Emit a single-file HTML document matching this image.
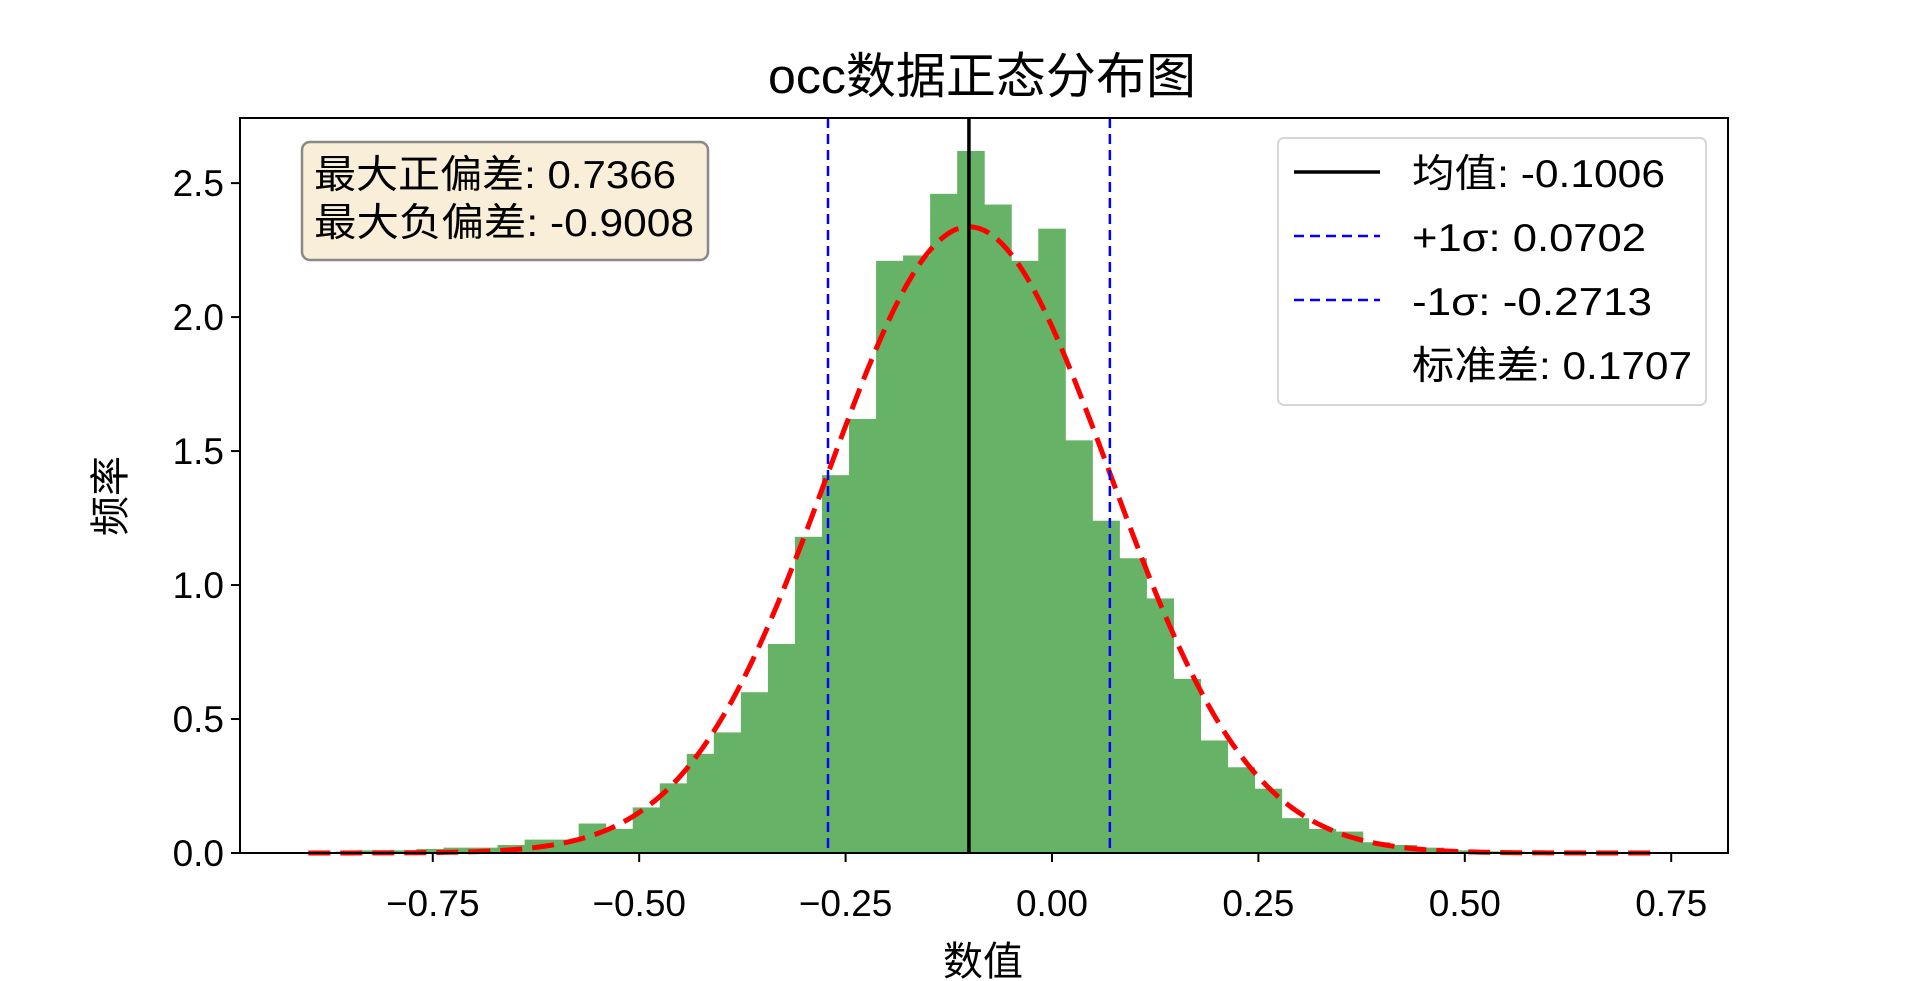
<!DOCTYPE html>
<html><head><meta charset="utf-8"><style>
html,body{margin:0;padding:0;background:#fff;}
svg{display:block;font-family:"Liberation Sans","Noto Sans CJK SC",sans-serif;}
</style></head><body>
<svg id="chart" width="1920" height="981" viewBox="0 0 1920 981" xmlns="http://www.w3.org/2000/svg">
<rect width="1920" height="981" fill="#fff"/>
<text x="982" y="93" font-size="49" text-anchor="middle" textLength="428" lengthAdjust="spacingAndGlyphs">occ数据正态分布图</text>
<g id="plot"></g>
<text x="983" y="975" font-size="40" text-anchor="middle">数值</text>
<text transform="translate(124,496) rotate(-90)" font-size="40" text-anchor="middle">频率</text>
<g>
<rect x="302" y="142" width="406" height="118" rx="8" fill="#f9eed8" stroke="#888" stroke-width="2.5"/>
<text x="314" y="188" font-size="39" textLength="362" lengthAdjust="spacingAndGlyphs">最大正偏差: 0.7366</text>
<text x="314" y="236" font-size="39" textLength="380" lengthAdjust="spacingAndGlyphs">最大负偏差: -0.9008</text>
</g>
<g>
<rect x="1278" y="138" width="428" height="267" rx="6" fill="#fff" fill-opacity="0.8" stroke="#d6d6d6" stroke-width="2"/>
<line x1="1294" y1="172" x2="1380" y2="172" stroke="#000" stroke-width="3.5"/>
<text x="1412" y="187" font-size="39" textLength="253" lengthAdjust="spacingAndGlyphs">均值: -0.1006</text>
<line x1="1294" y1="236" x2="1380" y2="236" stroke="#00f" stroke-width="2.5" stroke-dasharray="10,6"/>
<text x="1412" y="251" font-size="39" textLength="234" lengthAdjust="spacingAndGlyphs">+1σ: 0.0702</text>
<line x1="1294" y1="300" x2="1380" y2="300" stroke="#00f" stroke-width="2.5" stroke-dasharray="10,6"/>
<text x="1412" y="315" font-size="39" textLength="240" lengthAdjust="spacingAndGlyphs">-1σ: -0.2713</text>
<text x="1412" y="379" font-size="39" textLength="280" lengthAdjust="spacingAndGlyphs">标准差: 0.1707</text>
</g>
</svg>
<script>
const binStart = -0.9008;
const binWidth = 0.032748;
const binHeights = [0.003,0.005,0.01,0.01,0.015,0.02,0.02,0.03,0.05,0.05,0.11,0.09,0.17,0.26,0.37,0.45,0.60,0.78,1.18,1.41,1.62,2.21,2.23,2.46,2.62,2.42,2.21,2.33,1.54,1.24,1.10,0.95,0.65,0.42,0.32,0.24,0.13,0.09,0.08,0.04,0.03,0.02,0.01,0.006,0.005,0.004,0.003,0.002,0.002,0.002];
const meanValue = -0.1006;
const stdValue = 0.1707;
const xTicks = [-0.75,-0.5,-0.25,0,0.25,0.5,0.75];
const xTickLabels = ["−0.75","−0.50","−0.25","0.00","0.25","0.50","0.75"];
const yTicks = [0,0.5,1,1.5,2,2.5];
const yTickLabels = ["0.0","0.5","1.0","1.5","2.0","2.5"];

const L=240,R=1728,T=118,B=853;
const xMin=-0.9835,xMax=0.8188,yMin=0,yMax=2.743;
const X=v=>L+(v-xMin)/(xMax-xMin)*(R-L);
const Y=v=>B-(v-yMin)/(yMax-yMin)*(B-T);
const NS="http://www.w3.org/2000/svg";
const g=document.getElementById('plot');
function mk(tag,attrs){const e=document.createElementNS(NS,tag);for(const k in attrs)e.setAttribute(k,attrs[k]);g.appendChild(e);return e;}

binHeights.forEach((h,i)=>{
  const x0=X(binStart+i*binWidth),x1=X(binStart+(i+1)*binWidth);
  const r=mk('rect',{x:x0,y:Y(h),width:x1-x0+0.5,height:B-Y(h),fill:'#66b266'});
  
  
});
let pts=[];
const xEnd=binStart+binWidth*binHeights.length;
for(let k=0;k<=300;k++){
  const v=binStart+(xEnd-binStart)*k/300;
  const p=Math.exp(-0.5*((v-meanValue)/stdValue)**2)/(stdValue*Math.sqrt(2*Math.PI));
  pts.push(X(v).toFixed(1)+','+Y(p).toFixed(1));
}
const curve=mk('polyline',{points:pts.join(' '),fill:'none',stroke:'#f00','stroke-width':5,'stroke-dasharray':'22,10'});


const ml=mk('line',{x1:X(meanValue),x2:X(meanValue),y1:T,y2:B,stroke:'#000','stroke-width':3.5});


[meanValue+stdValue,meanValue-stdValue].forEach((v,i)=>{
  const l=mk('line',{x1:X(v),x2:X(v),y1:T,y2:B,stroke:'#00f','stroke-width':2.5,'stroke-dasharray':'10,6'});
  
  
});
const frame=mk('rect',{x:L,y:T,width:R-L,height:B-T,fill:'none',stroke:'#000','stroke-width':2});


xTicks.forEach((v,i)=>{
  const t=mk('line',{x1:X(v),x2:X(v),y1:B,y2:B+9,stroke:'#000','stroke-width':2});
  
  
  const tx=mk('text',{x:X(v),y:B+63,'font-size':37,'text-anchor':'middle'});
  tx.textContent=xTickLabels[i];
  
  
});
yTicks.forEach((v,i)=>{
  const t=mk('line',{x1:L-9,x2:L,y1:Y(v),y2:Y(v),stroke:'#000','stroke-width':2});
  
  
  const tx=mk('text',{x:L-16,y:Y(v)+13,'font-size':37,'text-anchor':'end'});
  tx.textContent=yTickLabels[i];
  
  
});
</script>
</body></html>
